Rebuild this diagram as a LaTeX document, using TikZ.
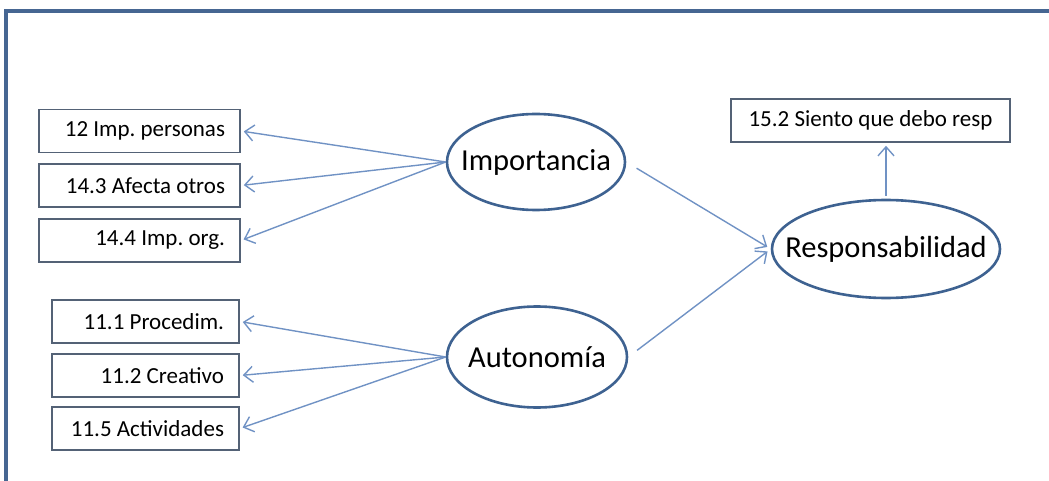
\documentclass[tikz,border=0pt]{standalone}
\usepackage{fontspec}
\setmainfont{Carlito}
\usepackage{tikz}
\usetikzlibrary{calc,positioning,arrows.meta,shapes.geometric}

\definecolor{framecol}{RGB}{70,102,146}
\definecolor{ovalcol}{RGB}{62,98,145}
\definecolor{boxcol}{RGB}{84,98,118}
\definecolor{linkcol}{RGB}{112,146,196}

\frenchspacing
\begin{document}
\begin{tikzpicture}[
			x=1pt, y=-1pt,
			item/.style={draw=boxcol, line width=1.6pt, fill=white, minimum height=43pt,
					inner xsep=15pt, align=flush right, font=\fontsize{23}{26}\selectfont},
			factor/.style={ellipse, draw=ovalcol, line width=2.6pt, inner sep=0pt,
					label={[font=\fontsize{30.5}{34}\selectfont]center:#1}},
			link/.style={draw=linkcol, line width=1.4pt,
					-{Straight Barb[length=9pt,width=16pt,line width=1.4pt]}}
		]
		\useasboundingbox (0,0) rectangle (1049,481);
		% frame
		\draw[framecol, line width=3.5pt] (6,481) -- (6,11) -- (1049,11);

		% factors
		\node[factor=Importancia, minimum width=178pt, minimum height=96pt] (imp) at (536,162) {};
		\node[factor=Autonomía, minimum width=180pt, minimum height=101pt] (aut) at (537,357) {};
		\node[factor=Responsabilidad, minimum width=228pt, minimum height=98pt] (resp) at (886,249) {};

		% items
		\node[item, text width=171pt] (i12) at (139.5,131) {12 Imp. personas};
		\node[item, text width=171pt] (i143) at (139.5,185.5) {14.3 Afecta otros};
		\node[item, text width=171pt] (i144) at (139.5,240.5) {14.4 Imp. org.};
		\node[item, text width=157pt] (i111) at (145.5,321.5) {11.1 Procedim.};
		\node[item, text width=157pt] (i112) at (145.5,375.5) {11.2 Creativo};
		\node[item, text width=157pt] (i115) at (145.5,428.5) {11.5 Actividades};
		\node[item, align=center, inner xsep=0pt, minimum width=279pt] (i152) at (870.5,120.5) {15.2 Siento que debo resp};

		% links
		\foreach \t in {i12,i143,i144}
			\draw[link, shorten >=3pt] (imp.west) -- (\t.east);
		\foreach \t in {i111,i112,i115}
			\draw[link, shorten >=3pt] (aut.west) -- (\t.east);
		\draw[link, shorten <=12pt, shorten >=4pt] (imp.east) -- (resp.west);
		\draw[link, shorten <=11pt, shorten >=4pt] (aut.east) -- (resp.west);
		\draw[link, shorten <=3pt, shorten >=3pt] (resp.north) -- (resp.north |- i152.south);
	\end{tikzpicture}
\end{document}
